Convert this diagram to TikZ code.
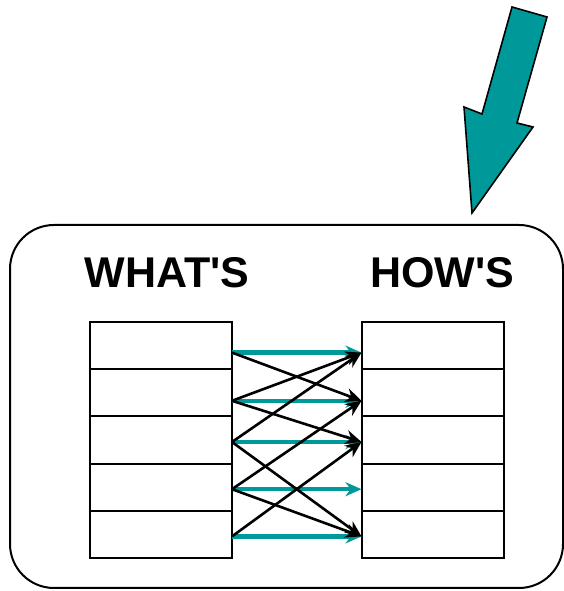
\documentclass[tikz,border=0pt]{standalone}
\usepackage{fontspec}
\setmainfont{Liberation Sans}
\usepackage{xcolor}
\usetikzlibrary{positioning,arrows.meta}
\definecolor{qfdteal}{RGB}{0,153,153}

\begin{document}
\begin{tikzpicture}[x=1pt,y=1pt]
\tikzstyle{cell}=[rectangle, draw=black, line width=2pt, minimum width=142pt, minimum height=47.2pt, inner sep=0pt, outer sep=0pt, node distance=0pt]
\tikzstyle{title}=[font=\fontsize{43}{48}\selectfont\bfseries, anchor=base, inner sep=0pt]
\tikzstyle{link}=[-{Stealth[length=16pt,width=14pt]}, line width=2.6pt]
\tikzstyle{match}=[-{Stealth[length=16pt,width=14pt]}, line width=4.5pt, draw=qfdteal]
  \useasboundingbox (0,0) rectangle (564,591);
  % outer frame
  \draw[line width=2pt, rounded corners=44pt] (10,3) rectangle (563,366);
  % the two columns
  \node[cell] (w1) at (161,245.4) {};
  \node[cell] (w2) [below=of w1] {};
  \node[cell] (w3) [below=of w2] {};
  \node[cell] (w4) [below=of w3] {};
  \node[cell] (w5) [below=of w4] {};
  \node[cell] (h1) at (432.5,245.4) {};
  \node[cell] (h2) [below=of h1] {};
  \node[cell] (h3) [below=of h2] {};
  \node[cell] (h4) [below=of h3] {};
  \node[cell] (h5) [below=of h4] {};
  \node[title] (whats) at (167,303) {WHAT\textquotesingle S};
  \node[title] (hows) at (442,303) {HOW\textquotesingle S};
  \foreach \i/\d in {1/7,2/8,3/2,4/2,5/2} {
    \coordinate (l\i) at ([yshift=-\d pt]w\i.east);
    \coordinate (r\i) at ([yshift=-\d pt]h\i.west);
  }
  \foreach \i in {1,...,5}
    \path (l\i) edge [match] (r\i);
  \foreach \a/\b in {1/2,2/1,2/3,3/1,3/5,4/2,4/5,5/3}
    \path (l\a) edge [link] (r\b);
  % big arrow pointing at the frame
  \draw[fill=qfdteal, line width=1.6pt, line join=miter] (512,584) -- (547,574) -- (517,468) -- (533,464)
    -- (472,378) -- (464,484) -- (482,477) -- cycle;
\end{tikzpicture}
\end{document}
